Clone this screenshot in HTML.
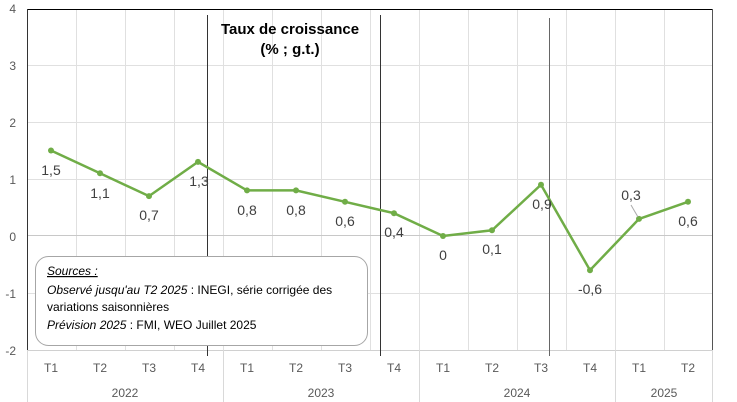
<!DOCTYPE html>
<html><head><meta charset="utf-8"><style>
body{margin:0;background:#fff}
svg{display:block;font-family:"Liberation Sans",sans-serif}
</style></head><body>
<svg width="737" height="402" xmlns="http://www.w3.org/2000/svg">
<rect width="737" height="402" fill="#fff"/>
<g stroke="#e0e0e0" stroke-width="1">
<line x1="27" y1="65.5" x2="713" y2="65.5"/>
<line x1="27" y1="122.5" x2="713" y2="122.5"/>
<line x1="27" y1="179.5" x2="713" y2="179.5"/>
<line x1="27" y1="293.5" x2="713" y2="293.5"/>
<line x1="76.5" y1="9" x2="76.5" y2="350"/><line x1="125.5" y1="9" x2="125.5" y2="350"/>
<line x1="174.5" y1="9" x2="174.5" y2="350"/><line x1="223.5" y1="9" x2="223.5" y2="350"/>
<line x1="272.5" y1="9" x2="272.5" y2="350"/><line x1="321.5" y1="9" x2="321.5" y2="350"/>
<line x1="370.5" y1="9" x2="370.5" y2="350"/><line x1="419.5" y1="9" x2="419.5" y2="350"/>
<line x1="468.5" y1="9" x2="468.5" y2="350"/><line x1="517.5" y1="9" x2="517.5" y2="350"/>
<line x1="566.5" y1="9" x2="566.5" y2="350"/><line x1="615.5" y1="9" x2="615.5" y2="350"/>
<line x1="664.5" y1="9" x2="664.5" y2="350"/>
</g>
<line x1="27" y1="235.5" x2="713" y2="235.5" stroke="#c8c8c8"/>
<line x1="27" y1="350.5" x2="713" y2="350.5" stroke="#d0d0d0"/>
<line x1="27" y1="9.5" x2="713" y2="9.5" stroke="#000"/>
<line x1="27.5" y1="9" x2="27.5" y2="351" stroke="#333"/>
<line x1="712.5" y1="9" x2="712.5" y2="351" stroke="#555"/>
<g stroke="#d9d9d9"><line x1="223.5" y1="350" x2="223.5" y2="402"/><line x1="419.5" y1="350" x2="419.5" y2="402"/><line x1="615.5" y1="350" x2="615.5" y2="402"/><line x1="27.5" y1="350" x2="27.5" y2="402"/><line x1="712.5" y1="350" x2="712.5" y2="402"/></g>
<g stroke="#333" stroke-width="1">
<line x1="207.5" y1="15" x2="207.5" y2="356"/>
<line x1="380.5" y1="15" x2="380.5" y2="356"/>
<line x1="549.5" y1="18" x2="549.5" y2="356" stroke="#666"/>
</g>
<g font-size="12" fill="#595959" text-anchor="end">
<text x="16" y="13">4</text><text x="16" y="70">3</text><text x="16" y="127">2</text><text x="16" y="184">1</text><text x="16" y="241">0</text><text x="16" y="298">-1</text><text x="16" y="355">-2</text>
</g>
<text x="290" y="34" font-size="15" font-weight="bold" text-anchor="middle" fill="#000">Taux de croissance</text>
<text x="290" y="54" font-size="15" font-weight="bold" text-anchor="middle" fill="#000">(% ; g.t.)</text>
<polyline fill="none" stroke="#70ad47" stroke-width="2.5" points="51,150.5 100,173.3 149,196.1 198,161.9 247,190.4 296,190.4 345,201.8 394,213.2 443,236 492,230.3 541,184.7 590,270.2 639,218.9 688,201.8"/>
<g fill="#70ad47">
<circle cx="51" cy="150.5" r="3"/><circle cx="100" cy="173.3" r="3"/><circle cx="149" cy="196.1" r="3"/><circle cx="198" cy="161.9" r="3"/><circle cx="247" cy="190.4" r="3"/><circle cx="296" cy="190.4" r="3"/><circle cx="345" cy="201.8" r="3"/><circle cx="394" cy="213.2" r="3"/><circle cx="443" cy="236" r="3"/><circle cx="492" cy="230.3" r="3"/><circle cx="541" cy="184.7" r="3"/><circle cx="590" cy="270.2" r="3"/><circle cx="639" cy="218.9" r="3"/><circle cx="688" cy="201.8" r="3"/>
</g>
<line x1="631" y1="205" x2="638" y2="217" stroke="#aaa"/>
<g font-size="14" fill="#404040" text-anchor="middle">
<text x="51" y="175">1,5</text><text x="100" y="198">1,1</text><text x="149" y="220">0,7</text><text x="199" y="186">1,3</text>
<text x="247" y="215">0,8</text><text x="296" y="215">0,8</text><text x="345" y="226">0,6</text><text x="394" y="237">0,4</text>
<text x="443" y="260">0</text><text x="492" y="254">0,1</text><text x="542" y="209">0,9</text><text x="590" y="294">-0,6</text>
<text x="631" y="200">0,3</text><text x="688" y="226">0,6</text>
</g>
<rect x="35.5" y="256.5" width="332" height="89" rx="13" fill="#fff" stroke="#a6a6a6"/>
<g font-size="12" fill="#000">
<text x="47" y="275" font-style="italic" text-decoration="underline">Sources :</text>
<text x="47" y="294"><tspan font-style="italic">Observé jusqu'au T2 2025</tspan> : INEGI, série corrigée des</text>
<text x="47" y="311">variations saisonnières</text>
<text x="47" y="329"><tspan font-style="italic">Prévision 2025</tspan> : FMI, WEO Juillet 2025</text>
</g>
<g font-size="12" fill="#595959" text-anchor="middle">
<text x="51" y="372">T1</text><text x="100" y="372">T2</text><text x="149" y="372">T3</text><text x="198" y="372">T4</text>
<text x="247" y="372">T1</text><text x="296" y="372">T2</text><text x="345" y="372">T3</text><text x="394" y="372">T4</text>
<text x="443" y="372">T1</text><text x="492" y="372">T2</text><text x="541" y="372">T3</text><text x="590" y="372">T4</text>
<text x="639" y="372">T1</text><text x="688" y="372">T2</text>
<text x="125" y="397">2022</text><text x="321" y="397">2023</text><text x="517" y="397">2024</text><text x="664" y="397">2025</text>
</g>
</svg>
</body></html>
